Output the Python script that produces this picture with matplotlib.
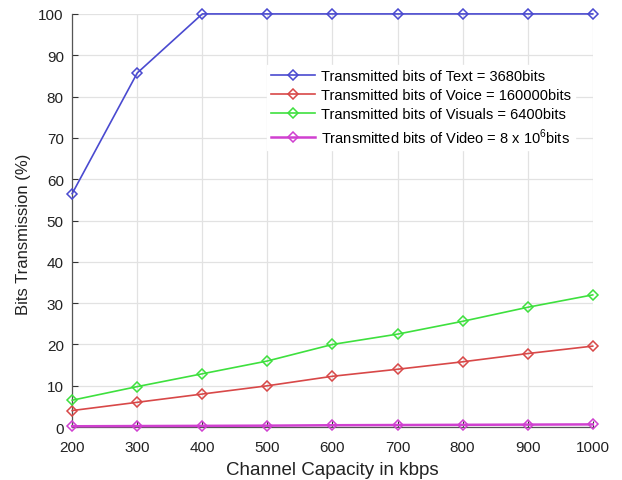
import matplotlib
matplotlib.use("Agg")
import matplotlib.pyplot as plt

capacity = [200, 300, 400, 500, 600, 700, 800, 900, 1000]
text_pct = [56.5, 85.7, 100, 100, 100, 100, 100, 100, 100]
voice_pct = [4.0, 6.0, 8.0, 10.0, 12.3, 14.0, 15.8, 17.8, 19.6]
visuals_pct = [6.5, 9.8, 12.9, 16.0, 20.0, 22.5, 25.6, 29.0, 32.0]
video_pct = [0.2, 0.25, 0.3, 0.35, 0.45, 0.5, 0.55, 0.6, 0.65]

labels = [
    "Transmitted bits of Text = 3680bits",
    "Transmitted bits of Voice = 160000bits",
    "Transmitted bits of Visuals = 6400bits",
    r"Transmitted bits of Video = 8 x 10$^{6}$bits",
]
colors = ["#4a4ad0", "#d84848", "#3ee03e", "#d040d0"]
widths = [1.2, 1.2, 1.2, 1.8]

plt.rcParams["font.family"] = ["Liberation Sans", "DejaVu Sans"]
plt.rcParams["mathtext.fontset"] = "custom"
plt.rcParams["mathtext.rm"] = "Liberation Sans"

fig = plt.figure(figsize=(6.22, 4.81), dpi=100)
ax = fig.add_axes([0.116, 0.110, 0.837, 0.859])

for y, lab, c, w in zip([text_pct, voice_pct, visuals_pct, video_pct], labels, colors, widths):
    ax.plot(capacity, y, color=c, lw=w, marker="D", ms=5.5,
            mfc="none", mec=c, mew=1.1, label=lab, clip_on=False, zorder=3)

ax.set_xlim(200, 1000)
ax.set_ylim(0, 100)
ax.set_xticks(capacity)
ax.set_yticks(range(0, 101, 10))
ax.grid(True, color="#e2e2e2", lw=0.9)
ax.set_axisbelow(True)
for s in ["top", "right"]:
    ax.spines[s].set_visible(False)
for s in ["left", "bottom"]:
    ax.spines[s].set_color("#555555")
    ax.spines[s].set_linewidth(0.9)
ax.tick_params(direction="in", length=4, labelsize=11, colors="#333333",
               labelcolor="#222222")
ax.tick_params(axis="x", pad=9)
ax.tick_params(axis="y", pad=6)
ax.set_xlabel("Channel Capacity in kbps", fontsize=13.5, color="#222222", labelpad=5)
ax.set_ylabel("Bits Transmission (%)", fontsize=12, color="#222222")
ax.yaxis.set_label_coords(-0.08, 0.47)

leg = ax.legend(loc="upper left", bbox_to_anchor=(0.36, 0.895), fontsize=10.5,
                frameon=True, fancybox=False, edgecolor="white", framealpha=1,
                handlelength=3.0, borderpad=0.3, labelspacing=0.35,
                handletextpad=0.4)

fig.savefig("out.png", dpi=100, facecolor="white")
